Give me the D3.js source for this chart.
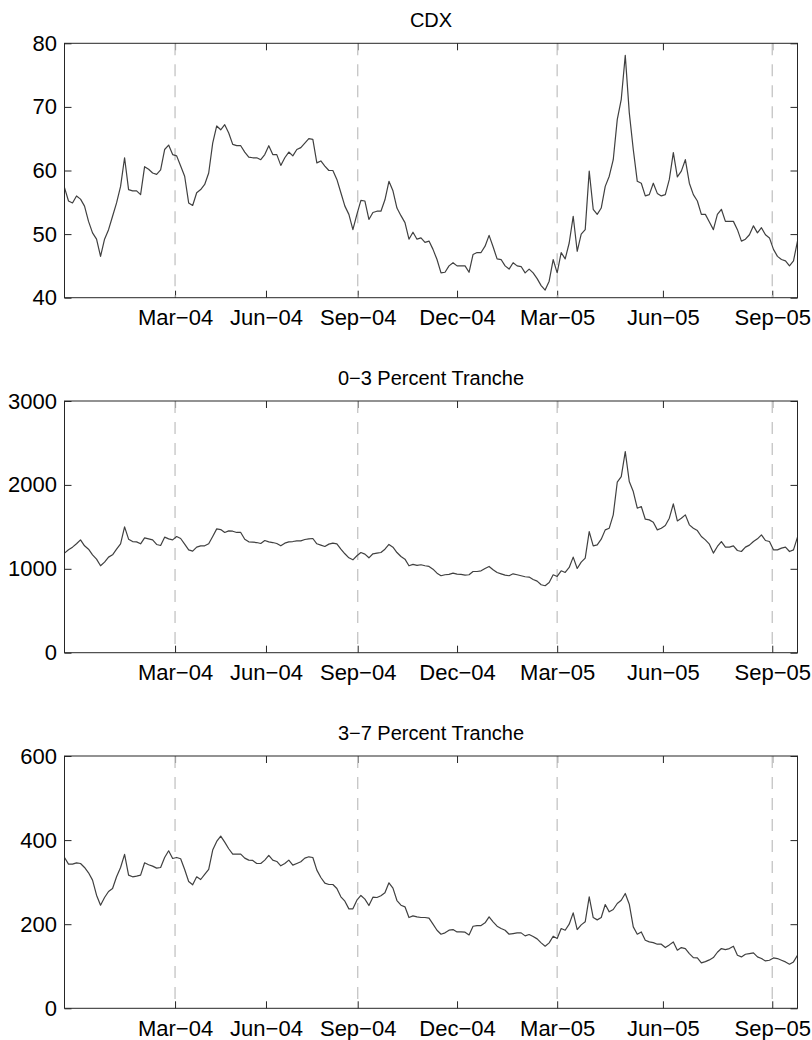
<!DOCTYPE html>
<html>
<head>
<meta charset="utf-8">
<script src="https://cdn.jsdelivr.net/npm/d3@7"></script>
<style>
  body { margin: 0; background: #fff; }
  svg { display: block; }
</style>
</head>
<body>
<svg id="chart" width="812" height="1040"></svg>
<script>
// Spread series, one observation per index step
const cdx = [
  57.3, 55.2, 54.9, 56.0, 55.5, 54.4, 52.0, 50.2, 49.2, 46.5,
  49.2, 50.7, 52.8, 54.9, 57.5, 62.0, 57.0, 56.8, 56.8, 56.2,
  60.6, 60.2, 59.6, 59.4, 60.1, 63.3, 64.0, 62.5, 62.3, 60.7,
  59.1, 54.9, 54.5, 56.5, 57.0, 57.8, 59.6, 64.3, 67.0, 66.4,
  67.2, 65.9, 64.1, 63.9, 63.9, 62.9, 62.1, 62.0, 62.0, 61.7,
  62.5, 63.9, 62.5, 62.5, 60.8, 62.0, 62.9, 62.3, 63.3, 63.6,
  64.3, 65.0, 64.9, 61.2, 61.5, 60.7, 60.0, 60.0, 58.6, 56.5,
  54.4, 53.1, 50.7, 53.1, 55.3, 55.2, 52.3, 53.4, 53.6, 53.6,
  55.4, 58.3, 56.8, 54.1, 52.9, 51.8, 49.2, 50.3, 49.2, 49.4,
  48.7, 48.9, 47.6, 46.0, 43.9, 44.0, 45.0, 45.5, 45.0, 45.0,
  45.0, 44.0, 46.8, 47.1, 47.1, 48.1, 49.8, 48.0, 46.1, 46.0,
  45.0, 44.5, 45.5, 45.0, 44.9, 43.9, 44.5, 43.9, 43.0, 41.9,
  41.2, 42.6, 46.0, 43.9, 47.1, 46.1, 48.6, 52.8, 47.3, 50.0,
  50.7, 59.9, 53.9, 53.1, 54.1, 57.5, 59.1, 61.7, 68.0, 71.2,
  78.1, 69.1, 63.3, 58.3, 58.0, 56.0, 56.2, 58.0, 56.4, 56.0,
  56.2, 58.6, 62.8, 59.0, 59.9, 61.7, 58.0, 56.2, 55.2, 53.1,
  53.1, 51.9, 50.7, 53.1, 53.9, 52.0, 52.0, 52.0, 50.7, 48.9,
  49.2, 49.9, 51.3, 50.2, 51.0, 49.9, 49.4, 47.6, 46.5, 46.0,
  45.8, 45.0, 45.8, 48.9
];

const tranche0to3 = [
  1187, 1226, 1258, 1298, 1345, 1274, 1234, 1167, 1115, 1036,
  1079, 1139, 1167, 1234, 1298, 1500, 1353, 1325, 1321, 1298,
  1369, 1357, 1345, 1290, 1278, 1377, 1357, 1345, 1385, 1361,
  1294, 1226, 1210, 1258, 1274, 1274, 1298, 1385, 1476, 1468,
  1433, 1452, 1448, 1433, 1433, 1353, 1321, 1317, 1313, 1302,
  1337, 1321, 1313, 1302, 1274, 1306, 1321, 1325, 1333, 1333,
  1349, 1357, 1361, 1298, 1282, 1266, 1294, 1306, 1298, 1234,
  1179, 1131, 1107, 1155, 1194, 1175, 1131, 1179, 1186, 1194,
  1234, 1290, 1258, 1194, 1147, 1115, 1036, 1052, 1040, 1048,
  1036, 1028, 996, 948, 917, 929, 933, 948, 937, 933,
  925, 929, 968, 968, 976, 1004, 1028, 988, 956, 940,
  925, 917, 940, 929, 917, 905, 901, 873, 853, 810,
  798, 837, 929, 909, 976, 956, 1016, 1139, 1004, 1079,
  1127, 1444, 1274, 1286, 1353, 1464, 1484, 1643, 2032, 2099,
  2397, 2040, 1921, 1722, 1742, 1591, 1583, 1556, 1464, 1484,
  1516, 1603, 1774, 1571, 1603, 1643, 1524, 1484, 1456, 1385,
  1345, 1294, 1187, 1266, 1325, 1258, 1258, 1274, 1218, 1206,
  1258, 1282, 1325, 1357, 1405, 1337, 1325, 1226, 1226, 1246,
  1258, 1206, 1226, 1377
];

const tranche3to7 = [
  358.7, 342.9, 342.9, 346.0, 344.4, 334.9, 322.2, 304.8, 269.0, 245.2,
  263.5, 277.8, 284.9, 312.7, 334.9, 366.0, 316.7, 312.7, 314.3, 316.7,
  346.0, 341.3, 338.1, 333.3, 334.9, 358.7, 374.6, 356.3, 358.7, 355.6,
  330.2, 301.6, 293.7, 312.7, 306.3, 318.3, 330.2, 376.2, 396.8, 409.5,
  395.2, 379.4, 366.7, 366.7, 366.7, 357.1, 352.4, 351.6, 344.4, 344.4,
  352.4, 363.5, 352.4, 349.2, 338.9, 344.4, 352.4, 340.5, 344.4, 348.4,
  357.1, 360.3, 358.7, 328.6, 311.1, 297.6, 294.4, 294.4, 284.9, 265.1,
  254.8, 236.5, 236.5, 257.1, 268.3, 259.5, 244.4, 264.3, 263.5, 267.5,
  274.6, 298.4, 285.7, 256.3, 245.2, 241.3, 215.9, 219.8, 217.5, 215.9,
  215.9, 214.3, 200.0, 185.7, 176.2, 179.4, 185.7, 187.3, 181.7, 181.7,
  181.0, 174.6, 195.2, 196.8, 196.8, 203.2, 217.5, 205.6, 195.2, 189.7,
  185.7, 176.2, 177.8, 179.4, 179.4, 172.2, 175.4, 170.6, 165.1, 155.6,
  147.6, 155.6, 171.4, 165.9, 189.7, 185.7, 200.0, 227.0, 187.3, 198.4,
  205.6, 265.1, 215.9, 210.3, 215.9, 246.8, 229.4, 234.9, 249.2, 257.1,
  273.0, 247.6, 193.7, 176.2, 181.7, 161.9, 157.9, 156.3, 152.4, 152.4,
  144.4, 150.8, 157.9, 138.1, 144.4, 142.1, 130.2, 120.6, 119.8, 107.9,
  111.1, 115.1, 120.6, 133.3, 142.1, 139.7, 142.1, 147.6, 126.2, 122.2,
  128.6, 130.2, 131.7, 122.2, 118.3, 112.7, 114.3, 119.8, 118.3, 114.3,
  110.3, 104.8, 110.3, 126.2
];

// Date ticks (position on the observation index) and index roll dates
const dateTickPos    = [27.6, 50.3, 73.2, 98.0, 123.0, 149.4, 176.7];
const dateTickLabels = ["Mar−04", "Jun−04", "Sep−04", "Dec−04", "Mar−05", "Jun−05", "Sep−05"];
const rollPos        = [27.6, 73.2, 123.0, 176.7];

const cdxTicks = [40, 50, 60, 70, 80];
const tr03Ticks = [0, 1000, 2000, 3000];
const tr37Ticks = [0, 200, 400, 600];

// ---- layout ----
const FONT = "'Liberation Sans', Arial, Helvetica, sans-serif";
const left = 64.5, right = 797.5;
const TICK = 7;
const TICK_FONT = 22, TITLE_FONT = 20;

const panels = [
  { title: "CDX",                  values: cdx,         ticks: cdxTicks,  top: 43.3,  bottom: 297.7 },
  { title: "0−3 Percent Tranche",  values: tranche0to3, ticks: tr03Ticks, top: 401.0, bottom: 652.7 },
  { title: "3−7 Percent Tranche",  values: tranche3to7, ticks: tr37Ticks, top: 756.0, bottom: 1008.3 }
];

const svg = d3.select("#chart");
svg.append("rect").attr("width", 812).attr("height", 1040).attr("fill", "#fff");

const x = d3.scaleLinear().domain([0, 183]).range([left, right]);

panels.forEach(p => {
  const y = d3.scaleLinear()
    .domain(d3.extent(p.ticks))
    .range([p.bottom, p.top]);

  const g = svg.append("g");

  // tick marks on all four sides, pointing inward
  const yl = g.append("g").attr("transform", `translate(${left},0)`)
    .call(d3.axisLeft(y).tickValues(p.ticks).tickSize(-TICK).tickPadding(7.5)
      .tickFormat(d3.format("d")));
  const yr = g.append("g").attr("transform", `translate(${right},0)`)
    .call(d3.axisRight(y).tickValues(p.ticks).tickSize(-TICK).tickFormat(""));
  const xb = g.append("g").attr("transform", `translate(0,${p.bottom})`)
    .call(d3.axisBottom(x).tickValues(dateTickPos).tickSize(-TICK).tickPadding(12)
      .tickFormat((d, i) => dateTickLabels[i]));
  const xt = g.append("g").attr("transform", `translate(0,${p.top})`)
    .call(d3.axisTop(x).tickValues(dateTickPos).tickSize(-TICK).tickFormat(""));

  [yl, yr, xb, xt].forEach(a => {
    a.select(".domain").remove();
    a.selectAll("line").attr("stroke", "#262626").attr("stroke-width", 1);
    a.selectAll("text").attr("font-family", FONT).attr("font-size", TICK_FONT).attr("fill", "#000");
  });

  // index roll dates
  g.append("g").selectAll("line").data(rollPos).join("line")
    .attr("x1", d => x(d)).attr("x2", d => x(d))
    .attr("y1", p.top).attr("y2", p.bottom)
    .attr("stroke", "#c8c8c8").attr("stroke-width", 1.4)
    .attr("stroke-dasharray", "12,9");

  // series
  g.append("path")
    .datum(p.values)
    .attr("fill", "none")
    .attr("stroke", "#404040")
    .attr("stroke-width", 1.2)
    .attr("stroke-linejoin", "round")
    .attr("d", d3.line().x((d, i) => x(i)).y(d => y(d)));

  // axes box
  g.append("rect")
    .attr("x", left).attr("y", p.top)
    .attr("width", right - left).attr("height", p.bottom - p.top)
    .attr("fill", "none").attr("stroke", "#262626").attr("stroke-width", 1);

  // title
  g.append("text")
    .attr("x", (left + right) / 2).attr("y", p.top - 16)
    .attr("text-anchor", "middle")
    .attr("font-family", FONT).attr("font-size", TITLE_FONT).attr("fill", "#000")
    .text(p.title);
});
</script>
</body>
</html>
